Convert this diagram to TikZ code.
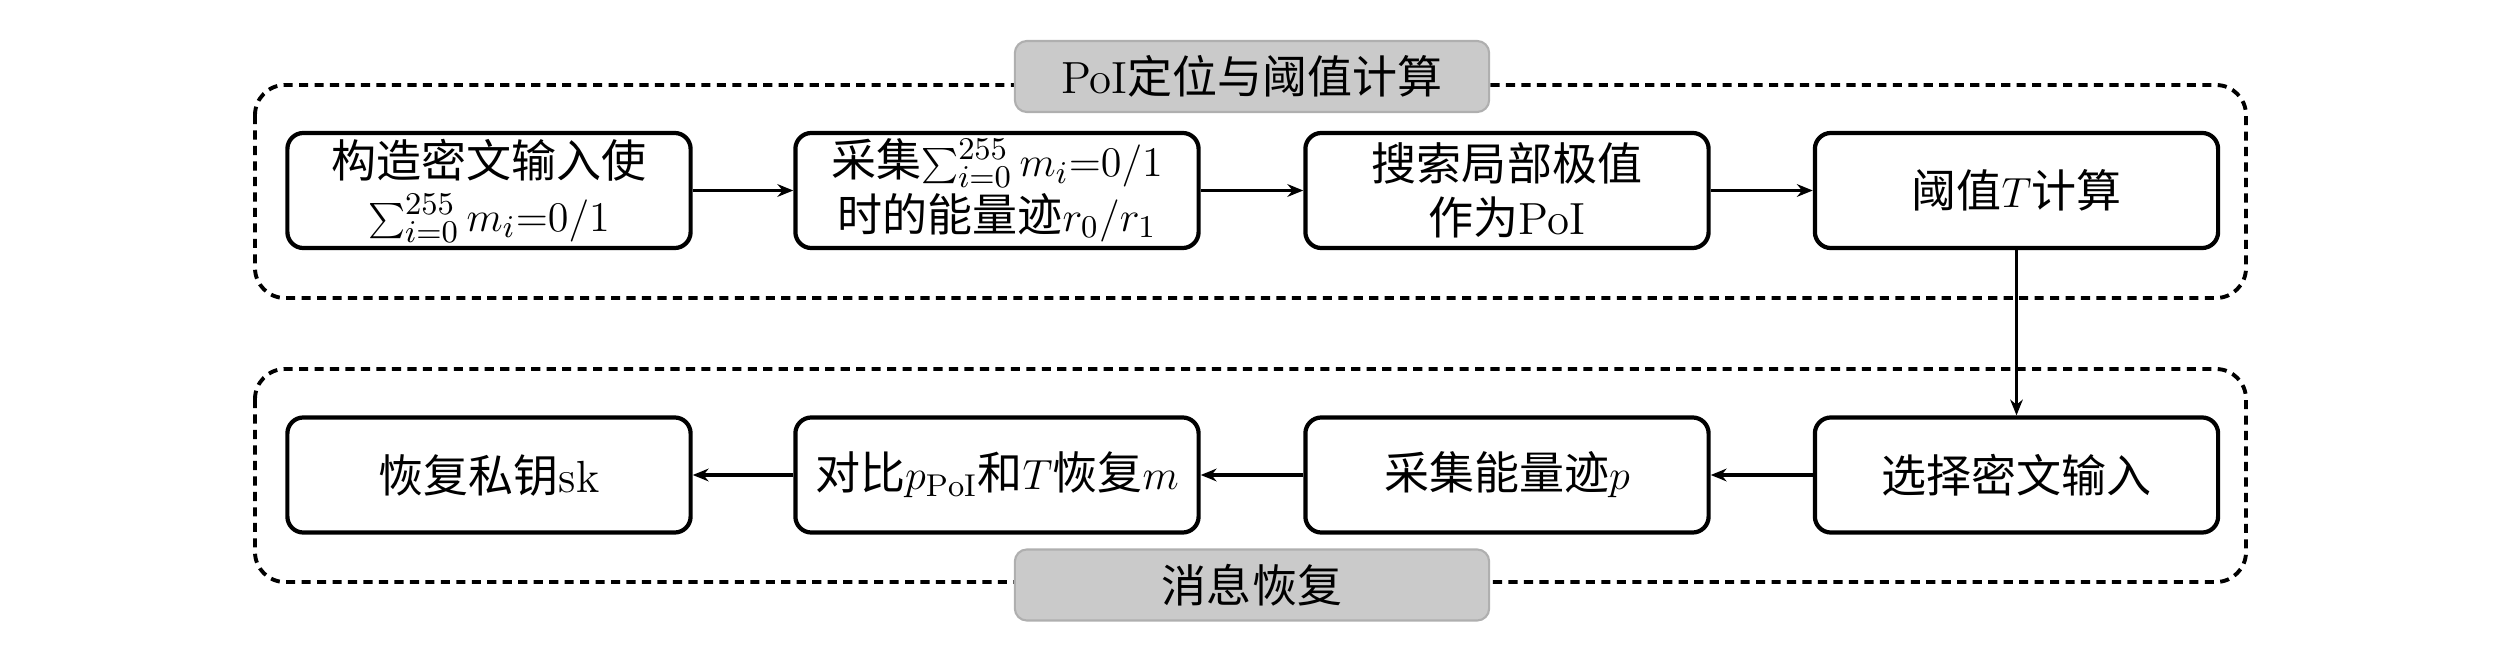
\documentclass[tikz,border=0pt]{standalone}
\usepackage{fontspec}
\newfontfamily\cjk{Noto Sans CJK SC}
\usetikzlibrary{arrows.meta}
\definecolor{lblfill}{RGB}{202,202,202}
\definecolor{lbldraw}{RGB}{175,175,175}
\begin{document}
\begin{tikzpicture}[x=0.01cm,y=-0.01cm,
  stepbox/.style={draw=black,line width=1.2pt,rounded corners=0.16cm,minimum width=4.03cm,minimum height=1.15cm,align=center,inner sep=0pt,font=\cjk\fontsize{12.8pt}{15.5pt}\selectfont},
  groupbox/.style={draw=black,line width=1.1pt,dash pattern=on 2.6pt off 1.8pt,rounded corners=0.3cm},
  grouplabel/.style={fill=lblfill,draw=lbldraw,line width=0.6pt,rounded corners=0.12cm,minimum width=4.74cm,minimum height=0.71cm,inner sep=0pt,font=\cjk\fontsize{12.8pt}{14pt}\selectfont},
  flow/.style={line width=1pt,-{Stealth[length=4.5pt,width=3.6pt]}},
  thinflow/.style={line width=0.6pt,-{Stealth[length=4.5pt,width=3.6pt]}}]
\useasboundingbox (0,0) rectangle (2520,667);
% group frames
\draw[groupbox] (255,85) rectangle (2246,298);
\draw[groupbox] (255,369) rectangle (2246,582);
\node[grouplabel] (lab1) at (1252,76.5) {{\rmfamily PoI}定位与阈值计算};
\node[grouplabel] (lab2) at (1252,585) {消息恢复};
% upper row
\node[stepbox] (a1) at (489,190.5) {构造密文输入使\\$\sum_{i=0}^{255}m_i{=}0/1$};
\node[stepbox] (a2) at (997,190.5) {采集$\sum_{i=0}^{255}m_i{=}0/1$\\时的能量迹$r_0/r_1$};
\node[stepbox] (a3) at (1507,190.5) {搜索局部极值\\作为{\rmfamily PoI}};
\node[stepbox] (a4) at (2016.5,190.5) {阈值$T$计算};
% lower row
\node[stepbox] (b4) at (2016.5,475) {选择密文输入};
\node[stepbox] (b3) at (1507,475) {采集能量迹$p$};
\node[stepbox] (b2) at (997,475) {对比$p_{\mathrm{PoI}}$和$T$恢复$m$};
\node[stepbox] (b1) at (489,475) {恢复私钥{\rmfamily sk}};
% connectors
\draw[flow] (a1) -- (a2);
\draw[flow] (a2) -- (a3);
\draw[flow] (a3) -- (a4);
\draw[thinflow] (a4) -- (b4);
\draw[flow] (b4) -- (b3);
\draw[flow] (b3) -- (b2);
\draw[flow] (b2) -- (b1);
\end{tikzpicture}
\end{document}
